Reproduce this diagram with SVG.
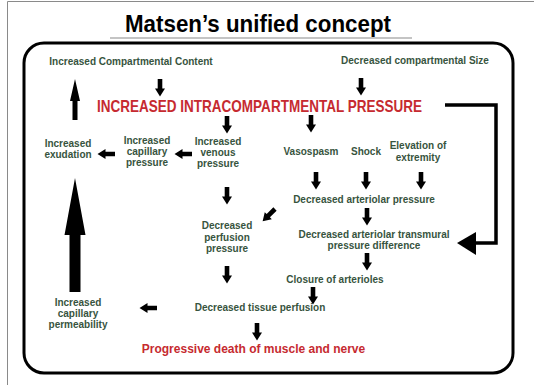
<svg xmlns="http://www.w3.org/2000/svg" xmlns:xlink="http://www.w3.org/1999/xlink" width="534" height="385" viewBox="0 0 534 385">
<defs>
<style>
text{font-family:"Liberation Sans",Arial,Helvetica,sans-serif;font-weight:bold}
.g{font-size:10px;fill:#37543e;text-anchor:middle}
.r{fill:#c62a30}
.arr{fill:#000}
</style>
<path id="da" d="M-2.3,0 H2.3 V9.5 H5 L0,17.5 L-5,9.5 H-2.3 Z"/>
</defs>
<rect width="534" height="385" fill="#fff"/>
<path d="M7.5,385 V1.5 H534" fill="none" stroke="#8a8a8a" stroke-width="1"/>
<g id="title">
<text x="258" y="32" font-size="23" text-anchor="middle" fill="#000" textLength="266" lengthAdjust="spacingAndGlyphs">Matsen’s unified concept</text>
<line x1="110" y1="38" x2="412" y2="38" stroke="#b0b0b0" stroke-width="1.5"/>
</g>
<rect id="frame" x="24" y="43" width="489" height="330" rx="20" ry="20" fill="none" stroke="#000" stroke-width="3"/>
<g id="n-content"><text class="g" x="131" y="65">Increased Compartmental Content</text></g>
<g id="n-size"><text class="g" x="415" y="64">Decreased compartmental Size</text></g>
<g id="n-icp"><text class="r" x="97" y="112" font-size="16.5" textLength="325" lengthAdjust="spacingAndGlyphs">INCREASED INTRACOMPARTMENTAL PRESSURE</text></g>
<g id="n-exudation"><text class="g" x="68" y="147">Increased</text><text class="g" x="68" y="158">exudation</text></g>
<g id="n-capillary"><text class="g" x="147" y="144">Increased</text><text class="g" x="147" y="155">capillary</text><text class="g" x="147" y="166">pressure</text></g>
<g id="n-venous"><text class="g" x="218" y="145">Increased</text><text class="g" x="218" y="156">venous</text><text class="g" x="218" y="167">pressure</text></g>
<g id="n-vasospasm"><text class="g" x="311" y="155">Vasospasm</text></g>
<g id="n-shock"><text class="g" x="366" y="155">Shock</text></g>
<g id="n-elevation"><text class="g" x="418" y="149">Elevation of</text><text class="g" x="418" y="161">extremity</text></g>
<g id="n-arteriolar"><text class="g" x="364" y="203">Decreased arteriolar pressure</text></g>
<g id="n-transmural"><text class="g" x="374" y="238">Decreased arteriolar transmural</text><text class="g" x="374" y="249">pressure difference</text></g>
<g id="n-closure"><text class="g" x="335" y="283">Closure of arterioles</text></g>
<g id="n-perfpressure"><text class="g" x="227" y="229">Decreased</text><text class="g" x="227" y="241">perfusion</text><text class="g" x="227" y="252">pressure</text></g>
<g id="n-tissue"><text class="g" x="260" y="311">Decreased tissue perfusion</text></g>
<g id="n-permeability"><text class="g" x="78" y="306">Increased</text><text class="g" x="78" y="317">capillary</text><text class="g" x="78" y="328">permeability</text></g>
<g id="n-death"><text class="r" x="253.5" y="353" font-size="12" text-anchor="middle" fill="#c83a40">Progressive death of muscle and nerve</text></g>
<g id="connectors" class="arr">
<use xlink:href="#da" href="#da" transform="translate(160,79)"/>
<use xlink:href="#da" href="#da" transform="translate(361,78)"/>
<use xlink:href="#da" href="#da" transform="translate(227,116)"/>
<use xlink:href="#da" href="#da" transform="translate(311,115)"/>
<use xlink:href="#da" href="#da" transform="translate(316,172)"/>
<use xlink:href="#da" href="#da" transform="translate(366,172)"/>
<use xlink:href="#da" href="#da" transform="translate(421,172)"/>
<use xlink:href="#da" href="#da" transform="translate(227,187)"/>
<use xlink:href="#da" href="#da" transform="translate(367,208)"/>
<use xlink:href="#da" href="#da" transform="translate(367,253)"/>
<use xlink:href="#da" href="#da" transform="translate(313,287)"/>
<use xlink:href="#da" href="#da" transform="translate(227,266)"/>
<use xlink:href="#da" href="#da" transform="translate(257,323)"/>
<use xlink:href="#da" href="#da" transform="translate(275,209) rotate(45)"/>
<use xlink:href="#da" href="#da" transform="translate(115,154) rotate(90)"/>
<use xlink:href="#da" href="#da" transform="translate(192,154) rotate(90)"/>
<use xlink:href="#da" href="#da" transform="translate(157,308) rotate(90)"/>
<path d="M75,79 L80,101 H77.5 V120 H72.5 V101 H70 Z"/>
<path d="M75,178 L85.5,235 H80.5 V292 H69.5 V235 H64.5 Z"/>
<path d="M445,105 H496 V243 H474" fill="none" stroke="#000" stroke-width="3.5"/>
<polygon points="457,243 476,232 476,255"/>
</g>
</svg>
